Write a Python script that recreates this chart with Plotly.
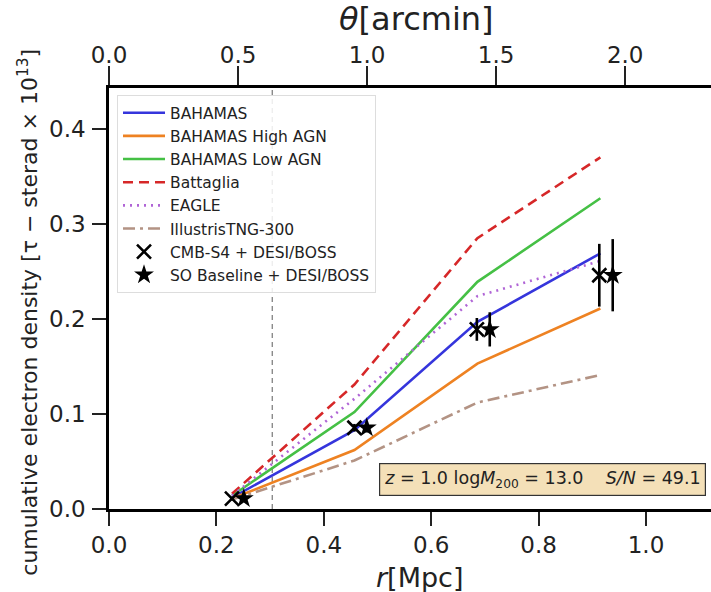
import plotly.graph_objects as go

# ---------------- data ----------------
r_model = [0.229, 0.457, 0.686, 0.915]
bahamas = [0.012, 0.083, 0.197, 0.269]
bahamas_high = [0.011, 0.062, 0.153, 0.211]
bahamas_low = [0.014, 0.102, 0.239, 0.327]
battaglia = [0.016, 0.131, 0.285, 0.370]
eagle = [0.014, 0.116, 0.224, 0.261]
illustris = [0.010, 0.051, 0.112, 0.141]

r_cmbs4 = [0.229, 0.457, 0.685, 0.913]
y_cmbs4 = [0.011, 0.0855, 0.189, 0.246]
err_cmbs4 = [0.002, 0.004, 0.012, 0.033]

r_so = [0.251, 0.480, 0.709, 0.938]
y_so = [0.011, 0.0855, 0.189, 0.246]
err_so = [0.002, 0.005, 0.018, 0.038]

r_beam = 0.304          # vertical dashed reference line
mpc_per_arcmin = 0.4806  # conversion r -> theta

x_range = [0.0, 1.121]
y_range = [0.0, 0.443]
x_ticks = [0.0, 0.2, 0.4, 0.6, 0.8, 1.0]
theta_ticks = [0.0, 0.5, 1.0, 1.5, 2.0]
y_ticks = [0.0, 0.1, 0.2, 0.3, 0.4]

FONT = "DejaVu Sans"

fig = go.Figure()

models = [
    ("BAHAMAS", bahamas, "#3535dc", "solid"),
    ("BAHAMAS High AGN", bahamas_high, "#ee8222", "solid"),
    ("BAHAMAS Low AGN", bahamas_low, "#45c045", "solid"),
    ("Battaglia", battaglia, "#d62728", "10px,6px"),
    ("EAGLE", eagle, "#b065d6", "2px,5px"),
    ("IllustrisTNG-300", illustris, "#b39384", "12px,5px,3px,5px"),
]
for name, ys, col, dash in models:
    fig.add_trace(go.Scatter(x=r_model, y=ys, mode="lines", name=name,
                             line=dict(color=col, width=2.6, dash=dash)))

fig.add_trace(go.Scatter(
    x=r_cmbs4, y=y_cmbs4, mode="markers", name="CMB-S4 + DESI/BOSS",
    marker=dict(symbol="x-thin-open", size=14, color="black",
                line=dict(color="black", width=2.6)),
    error_y=dict(type="data", array=err_cmbs4, color="black", thickness=2.6, width=0)))
fig.add_trace(go.Scatter(
    x=r_so, y=y_so, mode="markers", name="SO Baseline + DESI/BOSS",
    marker=dict(symbol="star", size=15, color="black"),
    error_y=dict(type="data", array=err_so, color="black", thickness=2.6, width=0)))

# dummy trace for the top theta axis
fig.add_trace(go.Scatter(x=[None], y=[None], xaxis="x2", showlegend=False))

fig.add_shape(type="line", xref="x", yref="paper", x0=r_beam, x1=r_beam, y0=0, y1=1,
              line=dict(color="#777777", width=1.2, dash="5px,4px"), layer="below")

axis_common = dict(showgrid=False, zeroline=False, showline=True, linecolor="black",
                   linewidth=2.6, ticks="outside", tickwidth=1.6,
                   tickcolor="#222", tickfont=dict(family=FONT, size=23, color="#222"))

fig.update_layout(
    width=711, height=592,
    margin=dict(l=109, r=0, t=88, b=83),
    paper_bgcolor="white", plot_bgcolor="white",
    font=dict(family=FONT, color="#222"),
    xaxis=dict(range=x_range, tickvals=x_ticks, tickformat=".1f", ticklen=14,
               ticklabelstandoff=0, **axis_common),
    xaxis2=dict(range=[x_range[0] / mpc_per_arcmin, x_range[1] / mpc_per_arcmin],
                tickvals=theta_ticks, tickformat=".1f", overlaying="x", side="top", ticklen=19,
                ticklabelstandoff=-6, **axis_common),
    yaxis=dict(range=y_range, tickvals=y_ticks, tickformat=".1f", ticklen=14,
               ticklabelstandoff=2, **axis_common),
    legend=dict(x=0.0133, y=0.983, xanchor="left", yanchor="top", itemwidth=42,
                bgcolor="rgba(255,255,255,0.85)", bordercolor="#dddddd", borderwidth=1,
                font=dict(family=FONT, size=15.5, color="#222"), tracegroupgap=0),
    showlegend=True,
)
fig.update_xaxes(tickfont=dict(size=22), selector=dict(side="bottom"))

# axis titles as annotations
fig.add_annotation(text="<i>r</i>[Mpc]", xref="paper", yref="paper", x=0.515, y=-0.163,
                   showarrow=False, font=dict(family=FONT, size=27, color="#222"),
                   xanchor="center", yanchor="middle", borderpad=0)
fig.add_annotation(text="<i>θ</i>[arcmin]", xref="paper", yref="paper", x=0.51, y=1.165,
                   showarrow=False, font=dict(family=FONT, size=32, color="#222"),
                   xanchor="center", yanchor="middle")
fig.add_annotation(text="cumulative electron density [τ − sterad × 10<sup>13</sup>]",
                   xref="paper", yref="paper", x=-0.135, y=0.468, textangle=-90,
                   showarrow=False, font=dict(family=FONT, size=22, color="#222"),
                   xanchor="center", yanchor="middle")

# info box
fig.add_annotation(text="<i>z</i> = 1.0 log<i>M</i><sub>200</sub> = 13.0    <i>S/N</i> = 49.1",
                   xref="paper", yref="paper", x=0.72, y=0.070, showarrow=False,
                   font=dict(family=FONT, size=17.5, color="#222"),
                   bgcolor="rgba(242,218,172,0.85)", bordercolor="#333333", borderwidth=1.2,
                   borderpad=4, xanchor="center", yanchor="middle")

fig.write_html("out.html")
